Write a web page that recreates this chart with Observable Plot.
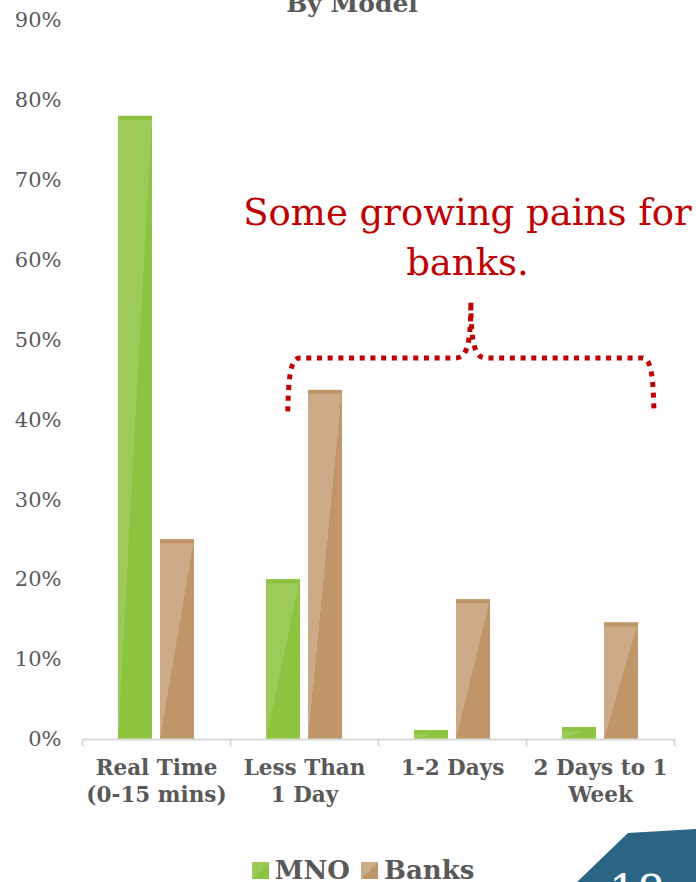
<!DOCTYPE html>
<html>
<head>
<meta charset="utf-8">
<script src="https://cdn.jsdelivr.net/npm/d3@7"></script>
<script src="https://cdn.jsdelivr.net/npm/@observablehq/plot@0.6"></script>
<style>
html, body { margin: 0; padding: 0; background: #fff; overflow: hidden; width: 696px; height: 882px; }
#wrap { position: relative; width: 696px; height: 882px; overflow: hidden; font-family: "DejaVu Serif", serif; color: #595959; }
#title { position: absolute; top: -9px; left: 0; width: 696px; box-sizing: border-box; padding-left: 8px; text-align: center; font-weight: bold; font-size: 25px; line-height: 25px; }
#legend { position: absolute; top: 859px; left: 0; width: 696px; box-sizing: border-box; padding-left: 30px; text-align: center; font-weight: bold; font-size: 26px; line-height: 22px; white-space: nowrap; }
#legend .sw { display: inline-block; width: 17px; height: 17px; vertical-align: baseline; margin-right: 6px; }
#legend .item { margin-right: 11px; }
#legend .item:last-child { margin-right: 0; }
#corner { position: absolute; left: 0; top: 0; }
</style>
</head>
<body>
<div id="wrap">
  <div id="title">By Model</div>
  <div id="chart"></div>
  <div id="legend"></div>
</div>
<script>
// ---- data ----
const categories = ["Real Time\n(0-15 mins)", "Less Than\n1 Day", "1-2 Days", "2 Days to 1\nWeek"];
const seriesNames = ["MNO", "Banks"];
const mnoValues = [78, 20, 1.1, 1.5];
const banksValues = [25, 43.7, 17.5, 14.6];
const yTicks = [0, 10, 20, 30, 40, 50, 60, 70, 80, 90];
const annotationText = "Some growing pains for\nbanks.";
const slideNumber = "18";

// ---- styles ----
const colors = {
  MNO:   {dark: "#8cc43f", light: "#9ccb5a", id: "gMNO"},
  Banks: {dark: "#c09669", light: "#ceab88", id: "gBanks"}
};
const textGray = "#595959";
const red = "#c00000";

const mnoData = categories.map((c, i) => ({category: c, series: "MNO", value: mnoValues[i]}));
const banksData = categories.map((c, i) => ({category: c, series: "Banks", value: banksValues[i]}));

const W = 696, H = 815;
const mL = 82, mR = 22, mT = 20, mB = 76;
const band = (W - mL - mR) / categories.length;

// brace annotation (in data units / band fractions)
const brace = {from: 1, to: 3, fromFrac: 0.39, toFrac: 0.865, yEnd: 41, yBar: 47.7, yPeak: 54.8};

function braceMark(index, scales) {
  const {x, y} = scales;
  const bw = x.bandwidth();
  const xl = x(categories[brace.from]) + brace.fromFrac * bw;
  const xr = x(categories[brace.to]) + brace.toFrac * bw;
  const xm = (xl + xr) / 2;
  const yE = y(brace.yEnd), yB = y(brace.yBar), yP = y(brace.yPeak);
  const d = [
    `M${xl},${yE}`,
    `C${xl + 1},${yB + 22} ${xl + 2},${yB} ${xl + 12},${yB}`,
    `L${xm - 16},${yB}`,
    `C${xm - 6},${yB} ${xm},${yB - 6} ${xm},${yP}`,
    `C${xm},${yB - 6} ${xm + 6},${yB} ${xm + 16},${yB}`,
    `L${xr - 12},${yB}`,
    `C${xr - 2},${yB} ${xr - 1},${yB + 22} ${xr},${yE}`
  ].join(" ");
  const g = d3.create("svg:g");
  g.append("path")
    .attr("d", d)
    .attr("fill", "none")
    .attr("stroke", red)
    .attr("stroke-width", 5)
    .attr("stroke-dasharray", "5,5.7")
    .attr("stroke-linecap", "butt");
  return g.node();
}

const plot = Plot.plot({
  width: W,
  height: H,
  marginLeft: mL,
  marginRight: mR,
  marginTop: mT,
  marginBottom: mB,
  style: {fontFamily: "DejaVu Serif", color: textGray, background: "#fff", overflow: "visible"},
  x: {type: "band", domain: categories, padding: 0, round: false, label: null},
  y: {domain: [0, 90], label: null, round: false},
  marks: [
    // bars
    Plot.barY(mnoData, {x: "category", y: "value", fill: `url(#${colors.MNO.id})`, insetLeft: 36, insetRight: 78}),
    Plot.barY(banksData, {x: "category", y: "value", fill: `url(#${colors.Banks.id})`, insetLeft: 78, insetRight: 36}),
    // darker top strip of each bar
    Plot.barY(mnoData, {x: "category", y1: d => Math.max(0, d.value - 0.5), y2: "value", fill: colors.MNO.dark, insetLeft: 36, insetRight: 78}),
    Plot.barY(banksData, {x: "category", y1: d => Math.max(0, d.value - 0.5), y2: "value", fill: colors.Banks.dark, insetLeft: 78, insetRight: 36}),
    // baseline axis and category boundary ticks
    Plot.ruleY([0], {stroke: "#d9d9d9", strokeWidth: 2}),
    Plot.ruleX(categories, {x: d => d, dx: -band / 2, y1: 0, y2: -0.9, stroke: "#d9d9d9", strokeWidth: 2}),
    Plot.ruleX([categories[categories.length - 1]], {x: d => d, dx: band / 2, y1: 0, y2: -0.9, stroke: "#d9d9d9", strokeWidth: 2}),
    // axes
    Plot.axisY({ticks: yTicks, tickFormat: d => d + "%", tickSize: 0, tickPadding: 21, fontSize: 21, fill: textGray, label: null}),
    Plot.axisX({tickSize: 0, tickPadding: 16, fontSize: 21.5, fontWeight: "bold", fill: textGray, lineHeight: 1.256, label: null}),
    // annotation
    braceMark,
    Plot.text([annotationText], {x: () => categories[2], dx: 15, y: () => 68.8, text: d => d, textAnchor: "middle", lineAnchor: "top", lineHeight: 1.35, fontSize: 37, fill: red, fontFamily: "DejaVu Serif"})
  ]
});

// gradient definitions for glossy bars
const defs = d3.select(plot).insert("defs", ":first-child");
for (const s of seriesNames) {
  const c = colors[s];
  const g = defs.append("linearGradient").attr("id", c.id)
    .attr("gradientUnits", "objectBoundingBox")
    .attr("x1", 0).attr("y1", 0).attr("x2", 1).attr("y2", 1);
  g.append("stop").attr("offset", "0").attr("stop-color", c.light);
  g.append("stop").attr("offset", "0.5").attr("stop-color", c.light);
  g.append("stop").attr("offset", "0.5").attr("stop-color", c.dark);
  g.append("stop").attr("offset", "1").attr("stop-color", c.dark);
}
document.getElementById("chart").appendChild(plot);

// legend
const legend = d3.select("#legend");
for (const s of seriesNames) {
  const item = legend.append("span").attr("class", "item");
  item.append("span").attr("class", "sw")
    .style("background", `linear-gradient(to bottom right, ${colors[s].light} 50%, ${colors[s].dark} 50%)`);
  item.append("span").text(s);
}

// slide-number corner
const corner = d3.select("#wrap").append("svg").attr("id", "corner")
  .attr("width", 696).attr("height", 882);
corner.append("polygon").attr("points", "577,882 628,833 696,829 696,882").attr("fill", "#2b6585");
corner.append("text").attr("x", 637).attr("y", 907).attr("text-anchor", "middle")
  .attr("font-family", "DejaVu Serif").attr("font-size", 44).attr("fill", "#fff").text(slideNumber);
</script>
</body>
</html>
